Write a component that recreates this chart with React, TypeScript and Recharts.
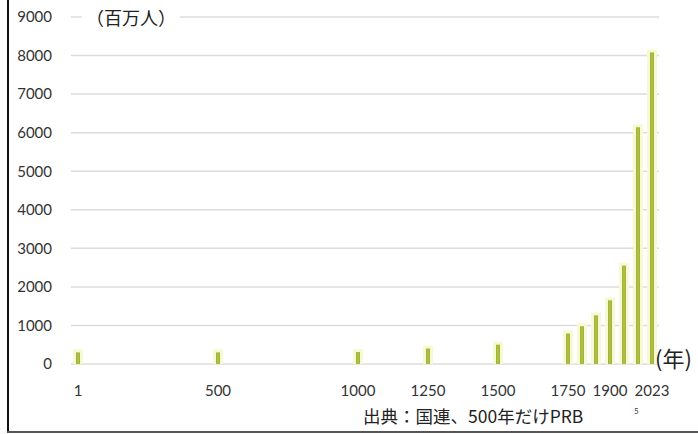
import { BarChart, Bar, XAxis, YAxis, CartesianGrid } from "recharts";

// World population (millions) by year
const years = [1, 500, 1000, 1250, 1500, 1750, 1800, 1850, 1900, 1950, 2000, 2023];
const population = [300, 300, 310, 400, 500, 790, 980, 1260, 1650, 2550, 6140, 8080];

const yearLabels = ["1", "500", "1000", "1250", "1500", "1750", "1900", "2023"];
const yTicks = [0, 1000, 2000, 3000, 4000, 5000, 6000, 7000, 8000, 9000];

// one slot every 50 years (first slot is year 1), plus a last slot for 2023
const slots: number[] = [1];
for (let y = 50; y <= 2000; y += 50) slots.push(y);
slots.push(2023);

const data = slots.map((year) => {
  const i = years.indexOf(year);
  return { year: String(year), pop: i >= 0 ? population[i] : null };
});

const numFont = "Lato, 'Noto Sans', sans-serif";
const jpFont = "'Noto Sans CJK JP', 'Noto Sans', sans-serif";

function GlowBar(props: any) {
  const { x, y, width, height } = props;
  if (!height || height <= 0) return null;
  const cx = x + width / 2;
  return (
    <g>
      <rect x={x} y={y - 3} width={width} height={height + 3} fill="#f7f9d2" />
      <rect x={cx - 2} y={y} width={4} height={height} fill="#a3b436" />
      <rect x={cx - 0.5} y={y + 1} width={1} height={height - 1} fill="#b9c85a" />
    </g>
  );
}

export default function App() {
  return (
    <div
      style={{
        position: "absolute",
        left: 0,
        top: 0,
        width: 698,
        height: 434,
        background: "#fff",
        overflow: "hidden",
      }}
    >
      <BarChart
        width={698}
        height={434}
        data={data}
        margin={{ top: 17, right: 39, bottom: 40, left: 0 }}
        barSize={10}
      >
        <CartesianGrid vertical={false} stroke="#dcdcdc" strokeWidth={1.5} />
        <XAxis
          dataKey="year"
          height={30}
          axisLine={false}
          tickLine={false}
          tickSize={0}
          tickMargin={21}
          interval={0}
          tickFormatter={(v: string) => (yearLabels.includes(v) ? v : "")}
          tick={{ fontSize: 15, fill: "#333", fontFamily: numFont }}
        />
        <YAxis
          width={71}
          domain={[0, 9000]}
          ticks={yTicks}
          interval={0}
          axisLine={false}
          tickLine={false}
          tickSize={0}
          tickMargin={19}
          tick={{ fontSize: 15, fill: "#333", fontFamily: numFont }}
        />
        <Bar dataKey="pop" shape={GlowBar} isAnimationActive={false} />
      </BarChart>

      <div
        style={{
          position: "absolute",
          left: 82,
          top: 7,
          lineHeight: "20px",
          fontSize: 18,
          fontFamily: jpFont,
          color: "#222",
          background: "#fff",
          padding: "0 4px",
        }}
      >
        （百万人）
      </div>
      <div
        style={{
          position: "absolute",
          left: 655,
          top: 345,
          lineHeight: "24px",
          fontSize: 22,
          fontFamily: jpFont,
          color: "#222",
          whiteSpace: "nowrap",
        }}
      >
        (年)
      </div>
      <div
        style={{
          position: "absolute",
          left: 363,
          top: 406,
          lineHeight: "20px",
          fontSize: 17.5,
          fontFamily: jpFont,
          color: "#222",
          whiteSpace: "nowrap",
        }}
      >
        出典：国連、500年だけPRB
      </div>
      <div
        style={{
          position: "absolute",
          left: 634,
          top: 406,
          lineHeight: "10px",
          fontSize: 8,
          fontFamily: numFont,
          color: "#333",
        }}
      >
        5
      </div>

      {/* frame lines */}
      <div style={{ position: "absolute", left: 7, top: 0, width: 2, height: 432, background: "#111" }} />
      <div style={{ position: "absolute", left: 7, top: 431, width: 691, height: 2, background: "#555" }} />
    </div>
  );
}
